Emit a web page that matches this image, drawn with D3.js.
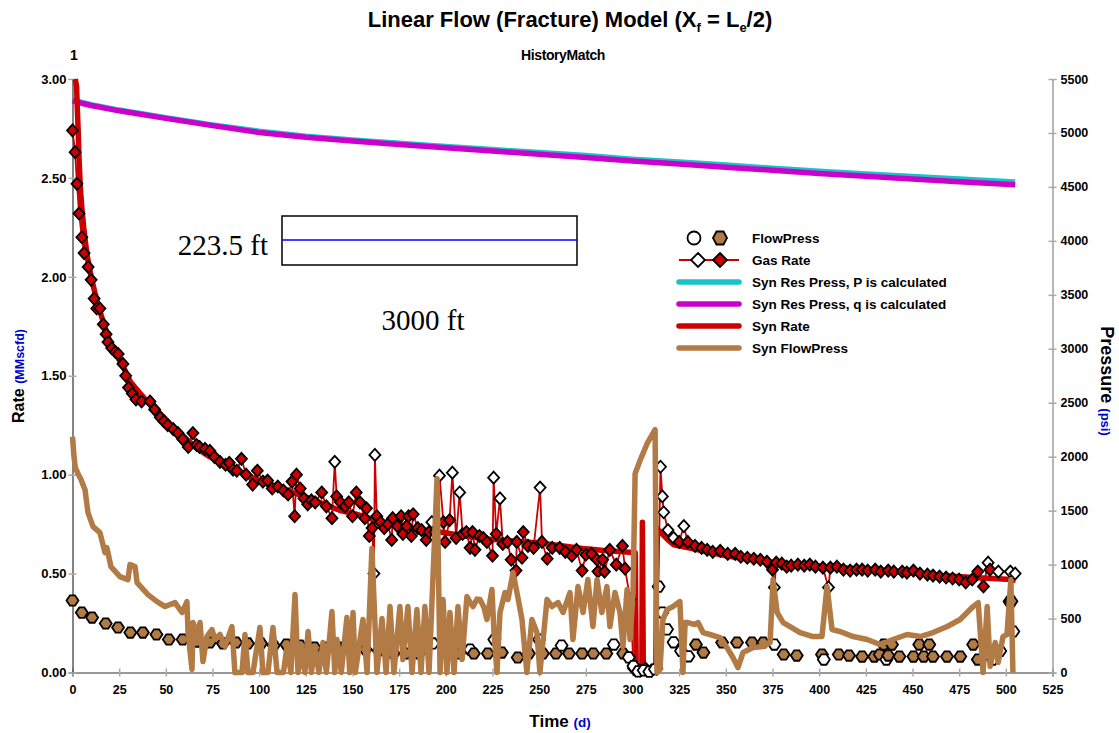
<!DOCTYPE html>
<html><head><meta charset="utf-8">
<script src="https://cdn.jsdelivr.net/npm/d3@7"></script>
<style>
body{margin:0;background:#fff;}
</style></head><body>
<svg id="chart" width="1119" height="733" style="font-family:'Liberation Sans',Arial,sans-serif"></svg>
<script>
// ---------------- DATA ----------------
const timeTicks = [0,25,50,75,100,125,150,175,200,225,250,275,300,325,350,375,400,425,450,475,500,525];
const rateTicks = [0,0.5,1.0,1.5,2.0,2.5,3.0];
const pressTicks = [0,500,1000,1500,2000,2500,3000,3500,4000,4500,5000,5500];

// Syn Res Press, P is calculated (psi)
const synResPressP = [[0,5310],[5,5283],[10,5262],[25,5212],[50,5142],[75,5075],[100,5015],[125,4970],[150,4935],[175,4905],[200,4875],[225,4847],[250,4818],[275,4790],[300,4757],[325,4730],[350,4702],[375,4673],[400,4645],[425,4620],[450,4597],[475,4573],[505,4545]];
// Syn Res Press, q is calculated (psi)
const synResPressQ = [[0,5300],[5,5275],[10,5255],[25,5205],[50,5135],[75,5068],[100,5005],[125,4960],[150,4925],[175,4893],[200,4862],[225,4833],[250,4803],[275,4773],[300,4740],[325,4712],[350,4683],[375,4654],[400,4625],[425,4598],[450,4574],[475,4548],[505,4520]];

// Syn Rate (MMscfd)
const synRate = [[1.5,3.0],[2.2,2.96],[2.5,2.87],[3,2.75],[3.5,2.6],[4.2,2.45],[5,2.35],[6,2.25],[7,2.17],[8,2.10],[9,2.05],[10,2.0],[12,1.92],[14,1.85],[16.5,1.77],[19,1.70],[22,1.63],[25,1.58],[28,1.53],[31,1.47],[34.5,1.43],[40,1.37],[46.6,1.31],[53,1.25],[61,1.18],[67,1.13],[73.6,1.09],[82,1.05],[91,1.01],[100,0.97],[109.5,0.94],[118,0.91],[127,0.88],[135,0.85],[143,0.82],[152,0.80],[162,0.77],[175,0.74],[186,0.72],[197,0.71],[210,0.69],[222,0.675],[236,0.665],[250,0.655],[263,0.64],[275,0.625],[286,0.615],[295,0.61],[301.5,0.605],[302,0],[305,0],[305.3,0.76],[305.8,0],[312.5,0],[313,0.73],[316,0.70],[319,0.67],[322,0.646],[330,0.63],[340,0.61],[350,0.59],[360,0.575],[376,0.556],[390,0.545],[412,0.53],[430,0.52],[448,0.505],[465,0.49],[483,0.48],[503,0.47],[504,0.45]];

// Gas Rate data (MMscfd): [time, rate, open(1)/filled(0)]
const gasRate = [[0,2.74,0],[1.4,2.63,0],[2.4,2.47,0],[3.5,2.32,0],[5,2.20,0],[6.2,2.12,0],[8.4,2.05,0],[10,1.985,0],[11.6,1.89,0],[13,1.84,0],[14.7,1.84,0],[16.5,1.76,0],[18,1.71,0],[19,1.67,0],[21,1.64,0],[23,1.62,0],[24.5,1.61,0],[27,1.56,0],[28.5,1.50,0],[30,1.44,0],[32,1.41,0],[34,1.38,0],[37,1.37,0],[41.5,1.37,0],[44,1.33,0],[47,1.29,0],[49,1.27,0],[51,1.25,0],[54,1.23,0],[56.5,1.21,0],[59,1.18,0],[62,1.14,0],[64.5,1.21,0],[66.5,1.15,0],[68,1.14,0],[71,1.13,0],[73.6,1.12,0],[76,1.09,0],[79,1.065,0],[82,1.05,0],[84,1.06,0],[86,1.025,0],[88,1.02,0],[90.5,1.08,0],[93,1.0,0],[96.5,0.95,0],[99,1.02,0],[102,0.965,0],[104.5,0.97,0],[107,0.93,0],[110,0.94,0],[113,0.92,0],[115.5,0.9,0],[117.6,0.965,0],[119,0.79,0],[120,1.0,0],[122,0.93,0],[124,0.88,0],[126,0.85,0],[128,0.87,0],[130,0.86,0],[133.5,0.91,0],[136,0.84,0],[139,0.78,0],[140.5,1.065,1],[141.5,0.89,0],[143.5,0.86,0],[146,0.84,0],[148,0.86,0],[150,0.79,0],[152,0.91,0],[154,0.86,0],[156.6,0.78,0],[157.5,0.83,0],[159,0.69,0],[160.5,0.73,0],[161.5,0.50,1],[162,1.10,1],[163,0.79,0],[165,0.76,0],[167,0.73,0],[169,0.75,0],[171,0.67,0],[171.5,0.78,0],[174,0.74,0],[176,0.79,0],[177,0.70,0],[179,0.74,0],[180,0.79,0],[181.5,0.69,0],[182.5,0.80,0],[185,0.73,0],[187,0.72,0],[189.5,0.67,0],[191,0.71,0],[192.5,0.76,1],[194,0.71,0],[196.6,0.995,1],[198.7,0.76,0],[199.6,0.66,0],[202,0.77,0],[203.5,1.01,1],[205.5,0.68,0],[207.4,0.91,1],[209,0.70,0],[211,0.71,0],[213,0.63,0],[214.3,0.71,0],[215.6,0.62,0],[218,0.69,0],[220,0.68,0],[222,0.66,0],[225,0.59,0],[225.6,0.985,1],[227,0.70,0],[229,0.88,1],[230.5,0.65,0],[233,0.66,0],[235,0.57,0],[237.6,0.515,0],[238,0.66,0],[240.8,0.58,0],[241.5,0.71,0],[244,0.64,0],[247,0.63,0],[250.5,0.935,1],[251.5,0.66,0],[254.3,0.575,0],[257,0.63,0],[261,0.63,0],[264,0.61,0],[267.5,0.59,0],[270,0.62,0],[273,0.515,0],[275,0.595,0],[278,0.60,0],[281,0.57,0],[281.5,0.51,0],[284,0.57,0],[285,0.51,0],[287.8,0.62,0],[291.3,0.545,0],[294.6,0.64,0],[296,0.525,0],[298.8,0.37,1],[300.6,0.02,1],[304,0.01,1],[307,0.02,1],[310,0.01,1],[313,0.02,1],[315,1.04,1],[316,0.89,1],[316.7,0.81,1],[319,0.72,1],[322,0.68,1],[325,0.66,0],[327.5,0.74,1],[329.6,0.66,0],[333.5,0.64,0],[337,0.63,0],[340,0.62,0],[343,0.61,0],[347,0.615,0],[351,0.60,0],[355,0.60,0],[358,0.585,0],[361.5,0.58,0],[365,0.575,0],[368.5,0.57,0],[372,0.56,0],[375,0.52,0],[376,0.43,1],[377,0.555,0],[380,0.55,0],[382.6,0.535,0],[385,0.54,0],[388.6,0.545,0],[392,0.54,0],[395,0.545,0],[398,0.535,0],[402,0.53,0],[405,0.43,1],[406,0.53,0],[409.5,0.535,0],[413,0.52,0],[416.6,0.515,0],[420,0.52,0],[423,0.52,0],[426,0.515,0],[430,0.52,0],[433,0.51,0],[437,0.515,0],[440,0.51,0],[444.5,0.51,0],[447,0.505,0],[450.5,0.515,0],[454,0.50,0],[458,0.495,0],[461,0.49,0],[464.5,0.485,0],[468,0.48,0],[471.5,0.475,0],[475,0.47,0],[478.5,0.455,0],[482,0.47,0],[485,0.51,0],[488,0.435,0],[490.5,0.555,1],[491.5,0.52,0],[496,0.51,1],[502.4,0.51,1],[505,0.50,1]];

// FlowPress data (psi): [time, pressure, open(1)/filled(0)]
const flowPress = [[0,667,0],[5,555,0],[10.5,509,0],[17.8,454,0],[24.4,417,0],[31,370,0],[37.7,370,0],[45,352,0],[51.6,306,0],[59,306,0],[66.5,287,0],[73.6,278,0],[80.6,269,0],[87.6,278,0],[94,269,0],[101,269,0],[107.8,250,0],[114.6,259,0],[122,250,0],[129.7,231,0],[136.6,231,0],[142.8,231,0],[147,259,1],[150,222,0],[157,213,0],[164,204,0],[168,241,1],[172,176,0],[178.5,176,0],[185.5,176,0],[193,269,1],[200,185,0],[204,324,1],[207,176,0],[213,213,1],[215,176,0],[222.5,176,0],[226,305,1],[230,185,0],[238.5,139,0],[244.5,176,0],[250,305,1],[252,176,0],[259,176,0],[262,250,1],[266,176,0],[273,176,0],[279,176,0],[286,176,0],[290,259,1],[295,176,0],[298,140,1],[300.5,60,1],[303,10,1],[306,20,1],[309,8,1],[312,30,1],[314,796,1],[316,556,1],[318.5,400,1],[322,280,1],[326,200,1],[330,150,1],[334,259,0],[338,185,0],[348,278,0],[356,278,0],[364,278,0],[370,278,0],[376,259,1],[381,167,0],[388,157,0],[401.5,167,0],[402.5,120,1],[410.5,167,0],[416,157,0],[423,148,0],[429.5,148,0],[432.5,167,0],[434.6,259,0],[436,120,1],[437,157,0],[439,259,0],[443,148,0],[450.5,148,0],[453.6,259,0],[456,148,0],[459,259,0],[461,148,0],[468.5,148,0],[475.6,148,0],[482.5,259,0],[485,120,0],[493,120,1],[497,200,1],[502,657,1],[503,660,0],[504,380,1]];

// Syn FlowPress (psi)
const synFlowPress = [[0,2185],[0.8,2000],[1.5,1900],[3,1840],[4.6,1787],[6.7,1694],[8.3,1481],[11,1352],[14.7,1296],[17.4,1111],[18.4,1157],[19,1111],[20.6,981],[25.4,889],[29.7,861],[30.8,1000],[33.5,981],[34.6,833],[40.4,722],[45.3,657],[49.6,611],[54.9,648],[58.7,556],[61.3,657],[61.9,370],[64,28],[64.6,463],[66.7,333],[68.3,463],[69.9,102],[72,333],[74.7,398],[76.3,306],[79,352],[81.7,241],[85.4,426],[87,0],[90.8,0],[92.4,352],[94,0],[96.7,0],[100.4,417],[102,0],[104.7,0],[107.4,417],[109.6,0],[113,0],[114.9,241],[117,0],[119.2,722],[120.8,0],[122.9,213],[124.5,0],[126.2,380],[128,0],[129.9,241],[132,0],[134.2,278],[136,0],[139,565],[140.5,0],[141.7,306],[144,0],[147,509],[148.5,0],[150.3,556],[151.5,0],[155.6,491],[157.8,0],[160.4,1150],[163.1,0],[165.8,500],[168,0],[170.1,611],[172.2,0],[175.4,611],[177,120],[179.7,611],[181.9,0],[184.5,583],[186.7,0],[188.8,611],[191,0],[195.3,1796],[196.9,0],[198.5,676],[200.6,0],[202.2,556],[204.4,0],[206.5,611],[208.7,120],[211.3,704],[213,650],[214.6,611],[216.7,680],[218.3,676],[220.5,600],[222,491],[224.7,769],[225.8,370],[227.4,0],[229,556],[231.7,741],[233.3,676],[236,926],[238.1,741],[240.8,491],[243.4,0],[246.1,491],[248.8,370],[250.4,0],[254.2,676],[256.9,611],[260.1,648],[262.8,556],[266.5,741],[268.1,306],[270.8,796],[273.5,556],[276.1,861],[278.8,426],[281,861],[283.6,556],[286.3,796],[287.9,426],[290.6,741],[293.3,556],[294.9,241],[297.1,769],[298.7,306],[300.3,741],[301.4,1843],[304,1963],[307.8,2120],[312.1,2250],[313.1,0],[314.7,28],[316.3,491],[318.5,583],[321.7,611],[325.4,657],[327,0],[328.2,463],[329.7,463],[333.5,444],[335.1,463],[337.8,370],[341.5,352],[346.9,324],[350.6,231],[353.8,139],[356.5,46],[359.2,185],[364.6,231],[370,241],[373.7,278],[375.3,861],[377.5,556],[380.7,463],[384.4,426],[389.8,370],[396.7,333],[401.5,333],[404.2,796],[406.9,398],[411.2,380],[418.2,333],[425.7,306],[432.6,259],[439.6,306],[447.1,352],[454.1,333],[461,370],[468.6,426],[475.5,491],[479.8,565],[482.5,611],[485.2,648],[487.8,0],[490,611],[491.6,56],[494.3,278],[495.9,93],[498.5,333],[500.6,352],[502.7,861],[503.8,0]];

const legendItems = ["FlowPress","Gas Rate","Syn Res Press, P is calculated","Syn Res Press, q is calculated","Syn Rate","Syn FlowPress"];

// ---------------- CHART ----------------
const C = {cyan:"#19c3c8", magenta:"#cc00cc", red:"#cc0000", brown:"#b27a45", blue:"#0000cc"};
const SANS = "'Liberation Sans',Arial,sans-serif";
const SERIF = "'Liberation Serif','Times New Roman',serif";
const svg = d3.select("#chart");
const x = d3.scaleLinear().domain([0,525]).range([72.5,1052.5]);
const yL = d3.scaleLinear().domain([0,3]).range([672.5,79]);
const yR = d3.scaleLinear().domain([0,5500]).range([672.5,79]);

// Titles
const title = svg.append("text").attr("x",570).attr("y",27).attr("text-anchor","middle")
  .style("font-size","22px").style("font-weight","bold");
title.append("tspan").text("Linear Flow (Fracture) Model (X");
title.append("tspan").style("font-size","13px").attr("dy",5).text("f");
title.append("tspan").attr("dy",-5).text(" = L");
title.append("tspan").style("font-size","13px").attr("dy",5).text("e");
title.append("tspan").attr("dy",-5).text("/2)");

svg.append("text").attr("x",563).attr("y",60).attr("text-anchor","middle").style("font-size","14px")
  .style("font-weight","bold").style("letter-spacing","-0.4px").text("HistoryMatch");
svg.append("text").attr("x",74).attr("y",60).attr("text-anchor","middle").style("font-size","14px")
  .style("font-weight","bold").text("1");

// Axes
function styleTicks(g, size){
  g.selectAll(".tick text").style("font-size",size+"px").style("font-weight","bold").attr("fill","#000")
   .style("font-family",SANS);
}
const gx = svg.append("g").attr("transform","translate(0,672.5)")
  .call(d3.axisBottom(x).tickValues(timeTicks).tickSizeOuter(0).tickSize(4).tickFormat(d3.format("d")));
gx.select(".domain").attr("stroke","#333").attr("stroke-width",1.2);
gx.selectAll(".tick line").attr("y1",-4).attr("y2",4).attr("stroke","#aaa").attr("stroke-width",1.5);
gx.selectAll(".tick text").attr("y",13);
styleTicks(gx,12.5);

const gl = svg.append("g").attr("transform","translate(72.5,0)")
  .call(d3.axisLeft(yL).tickValues(rateTicks).tickSizeOuter(0).tickSize(4).tickFormat(d3.format(".2f")));
gl.select(".domain").attr("stroke","#333").attr("stroke-width",1.2);
gl.selectAll(".tick line").attr("x1",-4).attr("x2",4).attr("stroke","#aaa").attr("stroke-width",1.5);
gl.selectAll(".tick text").attr("x",-6);
styleTicks(gl,13);

const gr = svg.append("g").attr("transform","translate(1052.5,0)")
  .call(d3.axisRight(yR).tickValues(pressTicks).tickSizeOuter(0).tickSize(4).tickFormat(d3.format("d")));
gr.select(".domain").attr("stroke","#888").attr("stroke-width",1.2);
gr.selectAll(".tick line").attr("x1",-4).attr("x2",4).attr("stroke","#aaa").attr("stroke-width",1.5);
gr.selectAll(".tick text").attr("x",8);
styleTicks(gr,12.5);

// Axis titles
const yt = svg.append("text").attr("transform","translate(24,376) rotate(-90)").attr("text-anchor","middle")
  .style("font-weight","bold");
yt.append("tspan").style("font-size","16px").text("Rate ");
yt.append("tspan").style("font-size","12.5px").attr("fill",C.blue).text("(MMscfd)");

const yrt = svg.append("text").attr("transform","translate(1101,381) rotate(90)").attr("text-anchor","middle")
  .style("font-weight","bold");
yrt.append("tspan").style("font-size","18px").text("Pressure ");
yrt.append("tspan").style("font-size","13px").attr("fill",C.blue).text("(psi)");

const xt = svg.append("text").attr("x",560).attr("y",727).attr("text-anchor","middle").style("font-weight","bold");
xt.append("tspan").style("font-size","17px").text("Time ");
xt.append("tspan").style("font-size","13.5px").attr("fill",C.blue).text("(d)");

// Annotation: fracture sketch
svg.append("rect").attr("x",282).attr("y",216).attr("width",295).attr("height",49)
  .attr("fill","none").attr("stroke","#000").attr("stroke-width",1.5);
svg.append("line").attr("x1",282).attr("x2",577).attr("y1",240).attr("y2",240)
  .attr("stroke","#0000ff").attr("stroke-width",1.5);
svg.append("text").attr("x",268).attr("y",255).attr("text-anchor","end").style("font-size","29px")
  .style("font-family",SERIF).text("223.5 ft");
svg.append("text").attr("x",423).attr("y",330).attr("text-anchor","middle").style("font-size","29px")
  .style("font-family",SERIF).text("3000 ft");

// Lines
const lineL = d3.line().x(d=>x(d[0])).y(d=>yL(d[1]));
const lineR = d3.line().x(d=>x(d[0])).y(d=>yR(d[1]));

svg.append("path").attr("d",lineR(synResPressP)).attr("fill","none").attr("stroke",C.cyan).attr("stroke-width",5.5);
svg.append("path").attr("d",lineR(synResPressQ)).attr("fill","none").attr("stroke",C.magenta).attr("stroke-width",5.5);

svg.append("path").attr("d",lineL(synRate)).attr("fill","none").attr("stroke",C.red).attr("stroke-width",5.5)
  .attr("stroke-linejoin","round");
svg.append("path").attr("d",lineL(gasRate)).attr("fill","none").attr("stroke",C.red).attr("stroke-width",1.8);

const diamond = "M0,-6L5.5,0L0,6L-5.5,0Z";
const hexa = "M-6,0L-2.5,-5.2L2.5,-5.2L6,0L2.5,5.2L-2.5,5.2Z";

svg.append("g").selectAll("path").data(gasRate).join("path")
  .attr("d",diamond).attr("transform",d=>`translate(${x(d[0])},${yL(d[1])})`)
  .attr("fill",d=>d[2]?"#fff":C.red).attr("stroke","#000").attr("stroke-width",1.8);

svg.append("g").selectAll("path").data(flowPress).join("path")
  .attr("d",hexa).attr("transform",d=>`translate(${x(d[0])},${yR(d[1])})`)
  .attr("fill",d=>d[2]?"#fff":C.brown).attr("stroke","#000").attr("stroke-width",1.8);

svg.append("path").attr("d",lineR(synFlowPress)).attr("fill","none").attr("stroke",C.brown).attr("stroke-width",5.5)
  .attr("stroke-linejoin","round");

// Legend
const lg = svg.append("g");
const ly = [238,260,282,304,326,348];
lg.append("circle").attr("cx",694).attr("cy",ly[0]).attr("r",6.5).attr("fill","#fff").attr("stroke","#000").attr("stroke-width",1.8);
lg.append("path").attr("d","M-7,0L-3.5,-6.5L3.5,-6.5L7,0L3.5,6.5L-3.5,6.5Z").attr("transform",`translate(720,${ly[0]})`)
  .attr("fill",C.brown).attr("stroke","#000").attr("stroke-width",1.8);
lg.append("line").attr("x1",679).attr("x2",739).attr("y1",ly[1]).attr("y2",ly[1]).attr("stroke",C.red).attr("stroke-width",1.8);
lg.append("path").attr("d","M0,-7L7,0L0,7L-7,0Z").attr("transform",`translate(698,${ly[1]})`).attr("fill","#fff").attr("stroke","#000").attr("stroke-width",1.8);
lg.append("path").attr("d","M0,-7L7,0L0,7L-7,0Z").attr("transform",`translate(720,${ly[1]})`).attr("fill",C.red).attr("stroke","#000").attr("stroke-width",1.8);
[[C.cyan,2],[C.magenta,3],[C.red,4],[C.brown,5]].forEach(([c,i])=>{
  lg.append("line").attr("x1",679).attr("x2",739).attr("y1",ly[i]).attr("y2",ly[i]).attr("stroke",c)
    .attr("stroke-width",5.5).attr("stroke-linecap","round");
});
legendItems.forEach((t,i)=>{
  lg.append("text").attr("x",752).attr("y",ly[i]).attr("dy","0.35em").style("font-size","13.5px")
    .style("font-weight","bold").text(t);
});
</script>
</body></html>
